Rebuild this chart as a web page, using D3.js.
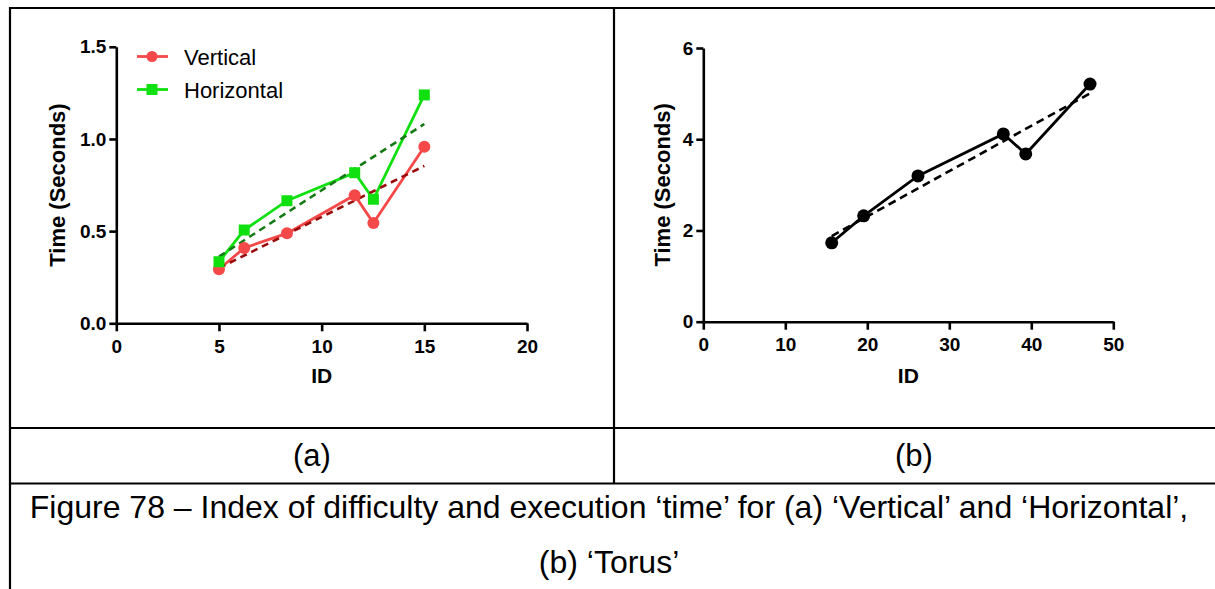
<!DOCTYPE html>
<html>
<head>
<meta charset="utf-8">
<script src="https://cdn.jsdelivr.net/npm/d3@7"></script>
<style>
  html, body { margin: 0; padding: 0; background: #fff; }
  svg { display: block; }
  text { font-family: Arial, "Liberation Sans", sans-serif; }
</style>
</head>
<body>
<svg id="fig" width="1215" height="589"></svg>
<script>
// ---------------- data ----------------
const idVH = [5.0, 6.23, 8.31, 11.61, 12.52, 15.0];
const vertical = [0.293, 0.409, 0.488, 0.695, 0.544, 0.958];
const horizontal = [0.334, 0.506, 0.665, 0.817, 0.673, 1.239];
const idTorus = [15.66, 19.56, 26.18, 36.59, 39.32, 47.16];
const torus = [1.73, 2.32, 3.195, 4.116, 3.678, 5.21];

const seriesNames = ["Vertical", "Horizontal"];
const leftXTicks = [0, 5, 10, 15, 20];
const leftYTicks = [0, 0.5, 1.0, 1.5];
const rightXTicks = [0, 10, 20, 30, 40, 50];
const rightYTicks = [0, 2, 4, 6];
const xTitle = "ID";
const yTitle = "Time (Seconds)";
const panelLabels = ["(a)", "(b)"];
const captionLines = [
  "Figure 78 \u2013 Index of difficulty and execution \u2018time\u2019 for (a) \u2018Vertical\u2019 and \u2018Horizontal\u2019,",
  "(b) \u2018Torus\u2019"
];

// least-squares fit (derived from the data above)
function fit(xs, ys) {
  const n = xs.length;
  const mx = d3.mean(xs), my = d3.mean(ys);
  let sxy = 0, sxx = 0;
  for (let i = 0; i < n; i++) { sxy += (xs[i]-mx)*(ys[i]-my); sxx += (xs[i]-mx)**2; }
  const b = sxy / sxx, a = my - b*mx;
  const x0 = d3.min(xs), x1 = d3.max(xs);
  return [[x0, a + b*x0], [x1, a + b*x1]];
}

const svg = d3.select("#fig");

// ---------------- table frame ----------------
const frame = svg.append("g").attr("stroke", "#000").attr("stroke-width", 2.2);
frame.append("line").attr("x1", 10).attr("x2", 1215).attr("y1", 8).attr("y2", 8);
frame.append("line").attr("x1", 10).attr("x2", 10).attr("y1", 7).attr("y2", 589);
frame.append("line").attr("x1", 614).attr("x2", 614).attr("y1", 8).attr("y2", 483.5);
frame.append("line").attr("x1", 10).attr("x2", 1215).attr("y1", 428).attr("y2", 428);
frame.append("line").attr("x1", 10).attr("x2", 1215).attr("y1", 483.5).attr("y2", 483.5);

// panel labels
svg.selectAll("text.panel").data(panelLabels).enter().append("text")
  .attr("class", "panel")
  .attr("x", (d, i) => i === 0 ? 312 : 914)
  .attr("y", 466)
  .attr("text-anchor", "middle")
  .attr("font-size", 31)
  .attr("fill", "#000")
  .text(d => d);

// caption
svg.selectAll("text.cap").data(captionLines).enter().append("text")
  .attr("class", "cap")
  .attr("x", 609)
  .attr("y", (d, i) => i === 0 ? 518 : 573)
  .attr("text-anchor", "middle")
  .attr("font-size", 32)
  .attr("fill", "#000")
  .text(d => d);

// ---------------- chart helper ----------------
function drawAxes(g, x, y, xTicks, yTicks, yFmt, yTitleX) {
  const xa = g.append("g").attr("transform", `translate(0,${y.range()[0]})`)
    .call(d3.axisBottom(x).tickValues(xTicks).tickSize(8).tickPadding(8).tickSizeOuter(0).tickFormat(d3.format("d")));
  const ya = g.append("g").attr("transform", `translate(${x.range()[0]},0)`)
    .call(d3.axisLeft(y).tickValues(yTicks).tickSize(7).tickPadding(3).tickSizeOuter(0).tickFormat(yFmt));
  [xa, ya].forEach(a => {
    a.selectAll("path.domain").attr("stroke", "#000").attr("stroke-width", 2.6);
    a.selectAll(".tick line").attr("stroke", "#000").attr("stroke-width", 2.6);
    a.selectAll(".tick text").attr("fill", "#000").attr("font-size", 19).attr("font-weight", "bold")
      .attr("font-family", "Arial, 'Liberation Sans', sans-serif");
  });
  g.append("text")
    .attr("x", (x.range()[0] + x.range()[1]) / 2).attr("y", 383)
    .attr("text-anchor", "middle").attr("font-size", 21).attr("font-weight", "bold")
    .text(xTitle);
  const cy = (y.range()[0] + y.range()[1]) / 2;
  g.append("text")
    .attr("transform", `translate(${yTitleX},${cy}) rotate(-90)`)
    .attr("text-anchor", "middle").attr("font-size", 22).attr("font-weight", "bold")
    .text(yTitle);
}

// ---------------- panel (a) ----------------
const xa = d3.scaleLinear().domain([0, 20]).range([116.3, 527]);
const ya = d3.scaleLinear().domain([0, 1.5]).range([323.3, 46.8]);
const ga = svg.append("g");
drawAxes(ga, xa, ya, leftXTicks, leftYTicks, d3.format(".1f"), 65);

const seriesA = [
  { name: seriesNames[0], ys: vertical, color: "#f54848", fitColor: "#9a0a0a", shape: "circle" },
  { name: seriesNames[1], ys: horizontal, color: "#10e010", fitColor: "#157a15", shape: "square" }
];
const lineA = d3.line().x(d => xa(d[0])).y(d => ya(d[1]));

seriesA.forEach(s => {
  const pts = idVH.map((xv, i) => [xv, s.ys[i]]);
  ga.append("path").datum(pts).attr("d", lineA)
    .attr("fill", "none").attr("stroke", s.color).attr("stroke-width", 2.8);
});
seriesA.forEach(s => {
  ga.append("path").datum(fit(idVH, s.ys)).attr("d", lineA)
    .attr("fill", "none").attr("stroke", s.fitColor).attr("stroke-width", 2.6)
    .attr("stroke-dasharray", "7,5");
});
seriesA.forEach(s => {
  const pts = idVH.map((xv, i) => [xv, s.ys[i]]);
  if (s.shape === "circle") {
    ga.selectAll(null).data(pts).enter().append("circle")
      .attr("cx", d => xa(d[0])).attr("cy", d => ya(d[1])).attr("r", 6)
      .attr("fill", s.color);
  } else {
    ga.selectAll(null).data(pts).enter().append("rect")
      .attr("x", d => xa(d[0]) - 5.5).attr("y", d => ya(d[1]) - 5.5)
      .attr("width", 11).attr("height", 11).attr("fill", s.color);
  }
});

// legend
const leg = ga.append("g");
seriesA.forEach((s, i) => {
  const ly = i === 0 ? 56.5 : 89.5;
  leg.append("line").attr("x1", 137).attr("x2", 168).attr("y1", ly).attr("y2", ly)
    .attr("stroke", s.color).attr("stroke-width", 2.8);
  if (s.shape === "circle") {
    leg.append("circle").attr("cx", 152).attr("cy", ly).attr("r", 5.5).attr("fill", s.color);
  } else {
    leg.append("rect").attr("x", 146.5).attr("y", ly - 5.5).attr("width", 11).attr("height", 11).attr("fill", s.color);
  }
  leg.append("text").attr("x", 184).attr("y", ly + 8).attr("font-size", 22).attr("fill", "#000").text(s.name);
});

// ---------------- panel (b) ----------------
const xb = d3.scaleLinear().domain([0, 50]).range([703.3, 1113.3]);
const yb = d3.scaleLinear().domain([0, 6]).range([321.7, 48]);
const gb = svg.append("g");
drawAxes(gb, xb, yb, rightXTicks, rightYTicks, d3.format("d"), 670);
const lineB = d3.line().x(d => xb(d[0])).y(d => yb(d[1]));
const ptsB = idTorus.map((xv, i) => [xv, torus[i]]);
gb.append("path").datum(ptsB).attr("d", lineB)
  .attr("fill", "none").attr("stroke", "#000").attr("stroke-width", 2.8);
gb.append("path").datum(fit(idTorus, torus)).attr("d", lineB)
  .attr("fill", "none").attr("stroke", "#000").attr("stroke-width", 2.6)
  .attr("stroke-dasharray", "8,5");
gb.selectAll(null).data(ptsB).enter().append("circle")
  .attr("cx", d => xb(d[0])).attr("cy", d => yb(d[1])).attr("r", 6.5).attr("fill", "#000");
</script>
</body>
</html>
